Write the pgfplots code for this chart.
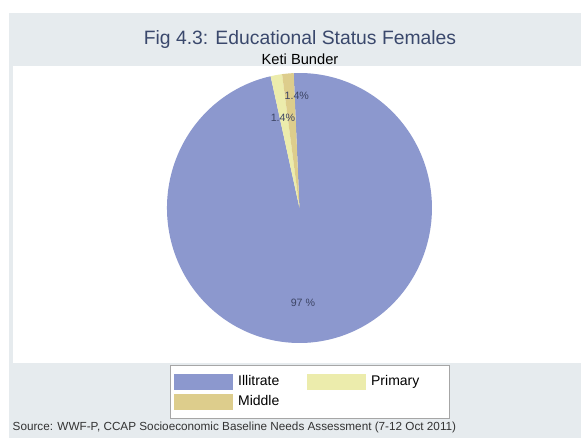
\documentclass[border=0pt]{standalone}
\usepackage{pgfplots}
\pgfplotsset{compat=1.18}
\usepackage{fontspec}
\setmainfont{Liberation Sans}
\definecolor{bgGray}{RGB}{230,235,238}
\definecolor{cIll}{RGB}{140,152,206}
\definecolor{cPri}{RGB}{236,236,172}
\definecolor{cMid}{RGB}{221,205,140}
\definecolor{titleC}{RGB}{58,72,108}
\definecolor{lblC}{RGB}{60,68,100}
% data (percent)
\pgfmathsetmacro{\vIll}{97.2}
\pgfmathsetmacro{\vPri}{1.4}
\pgfmathsetmacro{\vMid}{1.4}
\pgfmathsetmacro{\aStart}{92.5}
\pgfmathsetmacro{\aA}{\aStart-3.6*\vIll}
\pgfmathsetmacro{\aB}{\aA-3.6*\vPri}
\pgfmathsetmacro{\aC}{\aB-3.6*\vMid}
\begin{document}
\begin{tikzpicture}[x=0.75pt,y=0.75pt]
\fill[white] (0,0) rectangle (581,438);
\fill[bgGray] (9,0) rectangle (581,425);
\fill[white] (13,75) rectangle (581,372);
\node[font=\fontsize{14.5}{16}\selectfont, text=titleC] at (300,398) {Fig 4.3: Educational Status Females};
\node[font=\fontsize{11}{13}\selectfont] at (300,379) {Keti Bunder};
\node[anchor=west, font=\fontsize{8.8}{10}\selectfont, text=black!80] at (8,11) {Source: WWF-P, CCAP Socioeconomic Baseline Needs Assessment (7-12 Oct 2011)};
\begin{axis}[
  at={(224.6pt,172.5pt)}, anchor=center,
  scale only axis, width=265*0.75pt, height=270*0.75pt,
  xmin=-1, xmax=1, ymin=-1, ymax=1,
  hide axis, clip=false,
  legend columns=2,
  legend cell align=left,
  legend image code/.code={\fill[#1] (0pt,-6pt) rectangle (44pt,6pt);},
  legend style={at={(0.011,-0.081)}, anchor=north west,
    draw=black!35, fill=white, inner xsep=3pt, inner ysep=6.5pt,
    font=\fontsize{10.5}{12}\selectfont, row sep=3pt,
    nodes={inner xsep=4pt, inner ysep=0pt},
    /tikz/every odd column/.append style={column sep=0pt},
    /tikz/every even column/.append style={column sep=-3.75pt},
    cells={text width=51.5pt}},
]
\addplot[fill=cIll, draw=none, domain=\aA:\aStart, samples=200] ({cos(x)},{sin(x)}) -- (axis cs:0,0) -- cycle;
\addlegendentry{Illitrate}
\addplot[fill=cPri, draw=none, domain=\aB:\aA, samples=10] ({cos(x)},{sin(x)}) -- (axis cs:0,0) -- cycle;
\addlegendentry{Primary}
\addplot[fill=cMid, draw=none, domain=\aC:\aB, samples=10] ({cos(x)},{sin(x)}) -- (axis cs:0,0) -- cycle;
\addlegendentry{Middle}
\node[font=\fontsize{8}{9}\selectfont, text=lblC] at (axis cs:-0.02,0.83) {1.4\%};
\node[font=\fontsize{8}{9}\selectfont, text=lblC] at (axis cs:-0.125,0.67) {1.4\%};
\node[font=\fontsize{8}{9}\selectfont, text=lblC] at (axis cs:0.026,-0.70) {97 \%};
\end{axis}
\end{tikzpicture}
\end{document}
